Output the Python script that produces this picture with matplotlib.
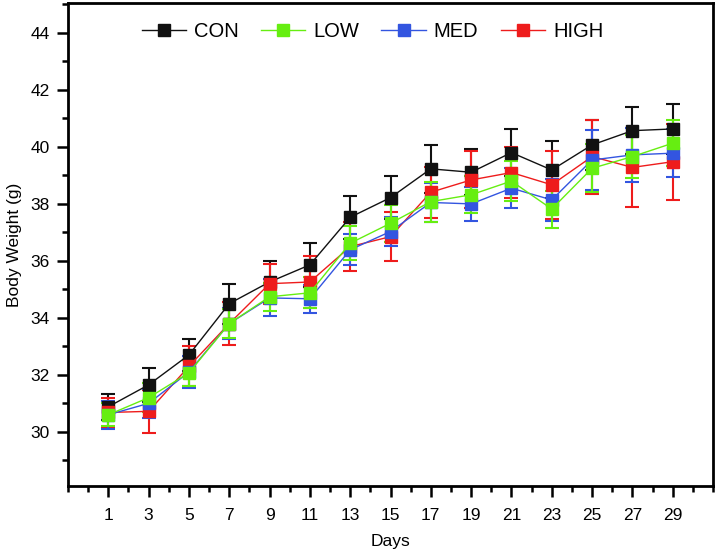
import matplotlib
matplotlib.use('Agg')
import matplotlib.pyplot as plt
from matplotlib.ticker import MultipleLocator

plt.rcParams['font.family'] = ['Liberation Sans', 'DejaVu Sans']

days = [1, 3, 5, 7, 9, 11, 13, 15, 17, 19, 21, 23, 25, 27, 29]

con = [30.88, 31.65, 32.7, 34.5, 35.26, 35.86, 37.53, 38.22, 39.23, 39.11, 39.8, 39.19, 40.07, 40.57, 40.63]
con_err = [0.45, 0.6, 0.55, 0.7, 0.75, 0.77, 0.75, 0.76, 0.84, 0.8, 0.82, 1.0, 0.88, 0.82, 0.87]

low = [30.6, 31.2, 32.07, 33.8, 34.74, 34.88, 36.62, 37.32, 38.08, 38.32, 38.8, 37.82, 39.25, 39.66, 40.13]
low_err = [0.4, 0.5, 0.45, 0.5, 0.5, 0.55, 0.6, 0.65, 0.7, 0.65, 0.7, 0.65, 0.85, 0.75, 0.8]

med = [30.6, 31.0, 32.1, 33.8, 34.7, 34.67, 36.39, 37.03, 38.05, 38.0, 38.55, 38.14, 39.54, 39.72, 39.78]
med_err = [0.5, 0.5, 0.55, 0.55, 0.65, 0.5, 0.55, 0.5, 0.67, 0.6, 0.7, 0.75, 1.05, 0.95, 0.85]

high = [30.68, 30.72, 32.3, 33.8, 35.2, 35.26, 36.5, 36.85, 38.41, 38.84, 39.1, 38.67, 39.66, 39.28, 39.48]
high_err = [0.5, 0.75, 0.7, 0.75, 0.7, 0.9, 0.85, 0.87, 0.9, 1.0, 0.9, 1.2, 1.3, 1.38, 1.34]

series = {
    'CON': (con, con_err, '#111111'),
    'LOW': (low, low_err, '#66ee11'),
    'MED': (med, med_err, '#3355e0'),
    'HIGH': (high, high_err, '#ee1c1c'),
}

fig = plt.figure(figsize=(7.19, 5.55), dpi=100)
ax = fig.add_axes([68 / 719, 1 - 486 / 555, 645 / 719, 483 / 555])

# error bars first, then the lines with markers on top
for z, name in enumerate(['CON', 'HIGH', 'MED', 'LOW']):
    vals, errs, col = series[name]
    ax.errorbar(days, vals, yerr=errs, fmt='none', ecolor=col,
                elinewidth=1.5, capsize=5, capthick=1.5, zorder=2)
for z, name in enumerate(['CON', 'HIGH', 'MED', 'LOW']):
    vals, errs, col = series[name]
    ax.plot(days, vals, color=col, marker='s', markersize=9,
            linewidth=1.0, zorder=3 + z)

order = ['CON', 'LOW', 'MED', 'HIGH']
leg_handles = [plt.Line2D([], [], color=series[n][2], marker='s', markersize=8,
                          linewidth=1.0) for n in order]
ax.legend(leg_handles, order, loc='center', bbox_to_anchor=(0.472, 0.94),
          ncol=4, frameon=False, fontsize=14.5, handlelength=2.2,
          handletextpad=0.4, columnspacing=1.1)

ax.set_xlim(-1, 31)
ax.set_ylim(28.1, 45.05)
ax.set_xticks(days)
ax.xaxis.set_minor_locator(MultipleLocator(1))
ax.yaxis.set_minor_locator(MultipleLocator(1))
ax.set_yticks(range(30, 45, 2))

for s in ax.spines.values():
    s.set_linewidth(2.0)
ax.tick_params(which='major', length=8, width=1.8, labelsize=12.5, pad=5)
ax.tick_params(which='minor', length=4.5, width=1.8)
ax.tick_params(axis='x', which='major', pad=8)

ax.set_xlabel('Days', fontsize=12.5, labelpad=8)
ax.set_ylabel('Body Weight (g)', fontsize=12.5, labelpad=6)

fig.savefig('out.png', dpi=100)
